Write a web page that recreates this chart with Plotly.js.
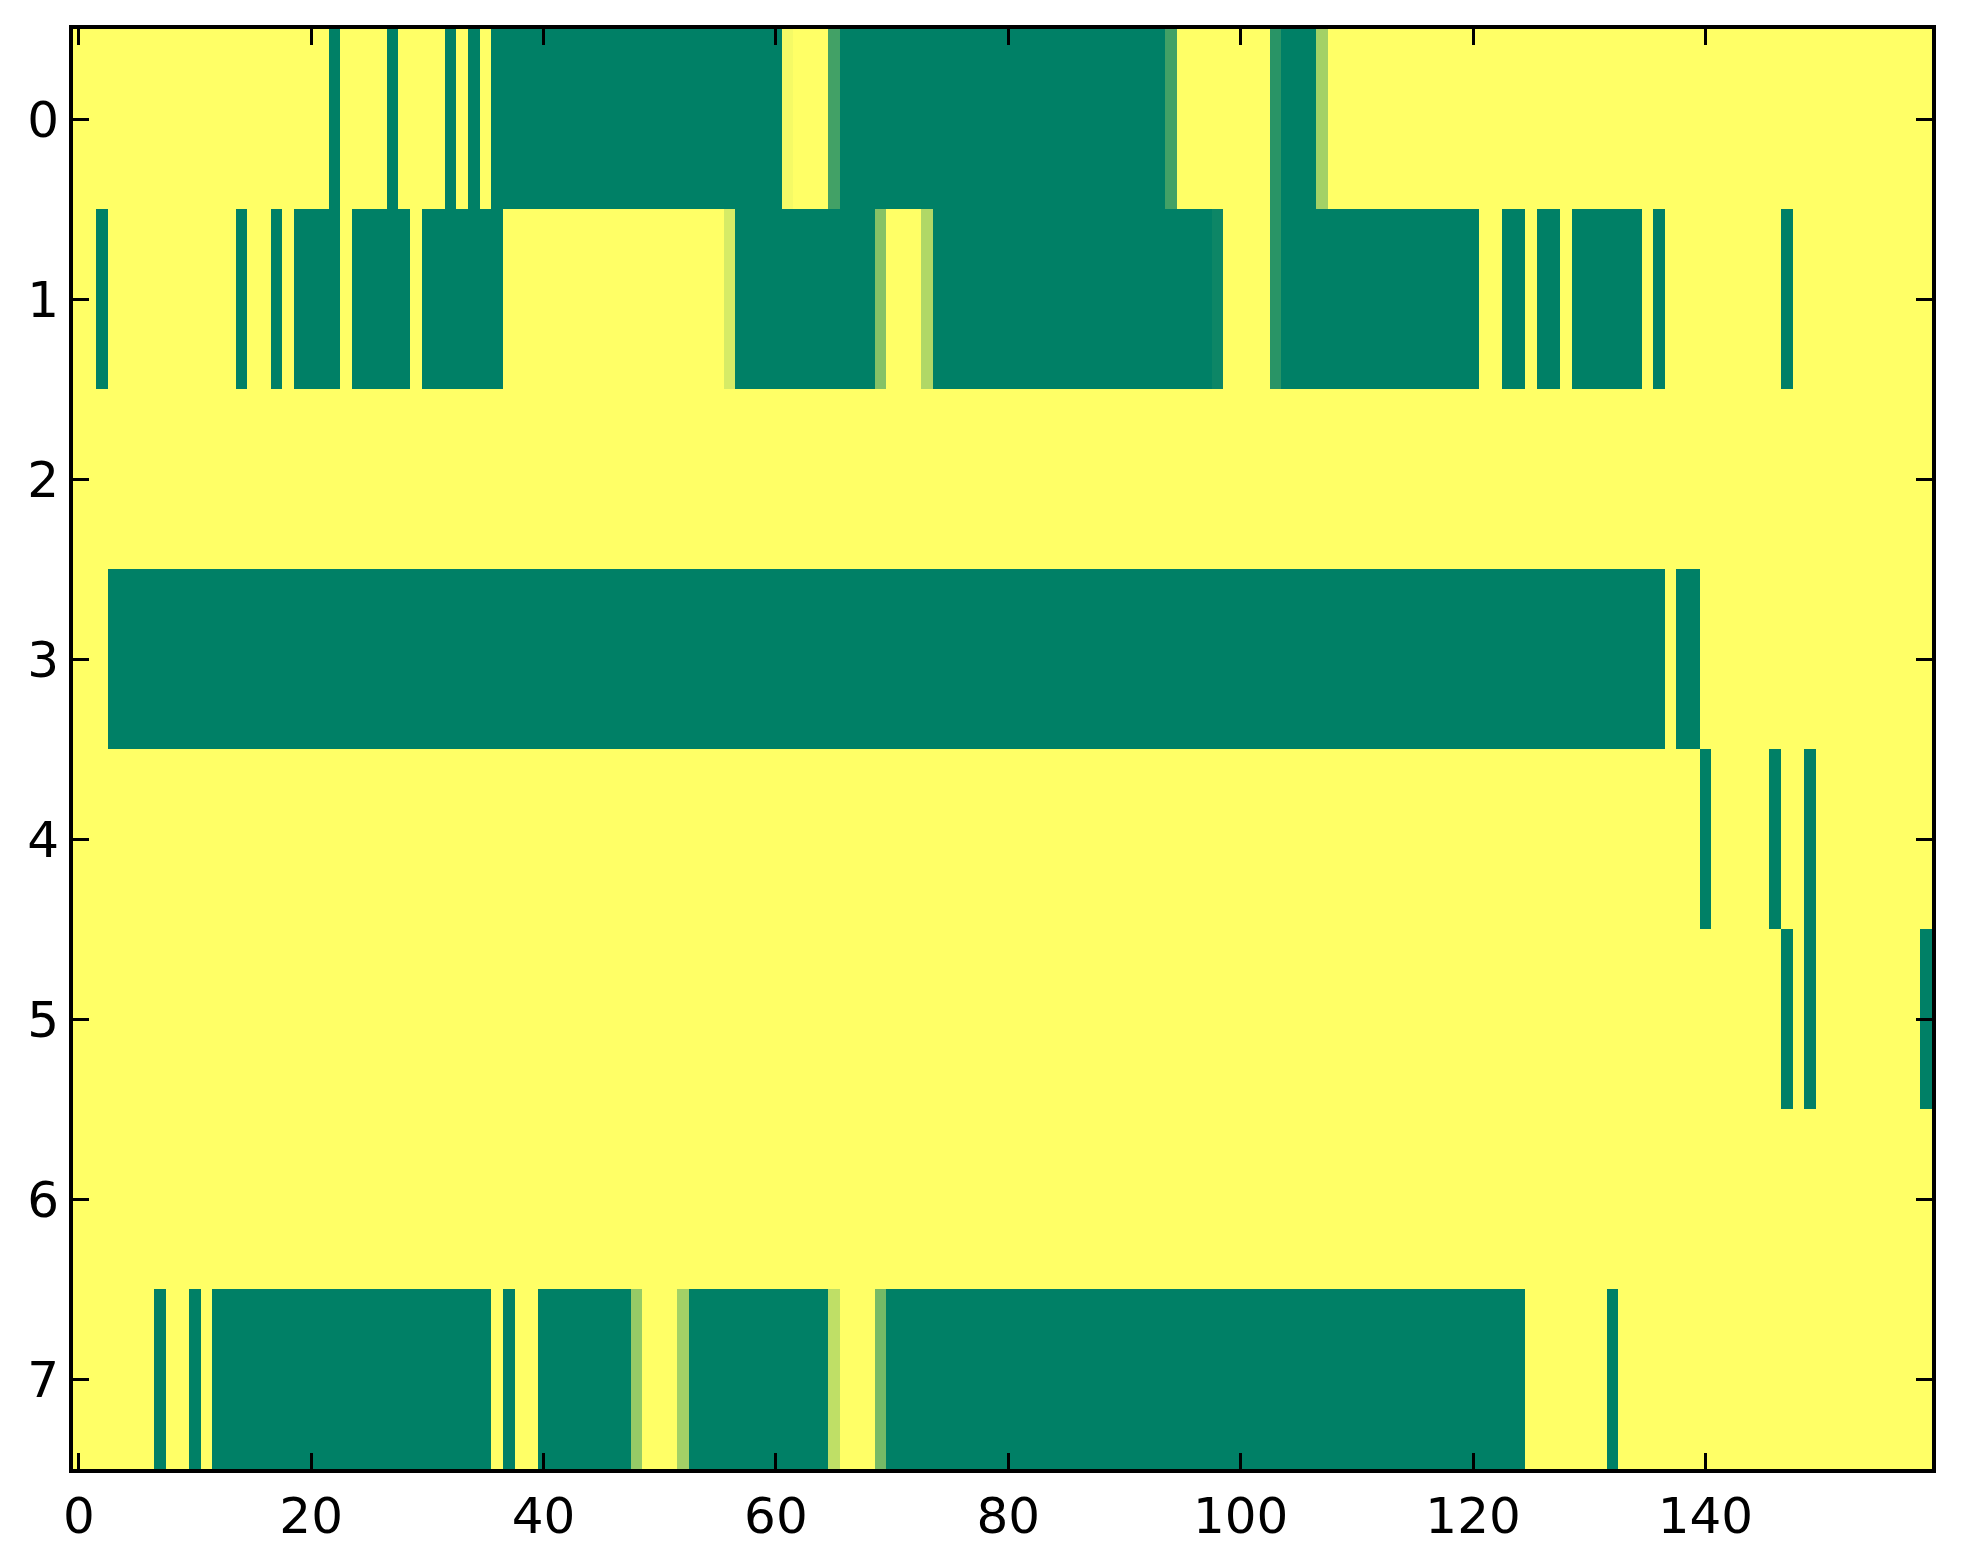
<!DOCTYPE html>
<html>
<head>
<meta charset="utf-8">
<script src="https://cdn.plot.ly/plotly-3.0.1.min.js"></script>
<style>html,body{margin:0;padding:0;background:#fff;}#chart{width:1963px;height:1564px;}</style>
</head>
<body>
<div id="chart"></div>
<script>
// Row labels (y categories) and x tick labels
const rowLabels = [0, 1, 2, 3, 4, 5, 6, 7];
const xTickVals = [0, 20, 40, 60, 80, 100, 120, 140];

// Cell values, 160 columns per row (0 = green, 1 = yellow)
const row0 = [
  1,1,1,1,1,1,1,1,1,1, 1,1,1,1,1,1,1,1,1,1,
  1,1,0,1,1,1,1,0,1,1, 1,1,0,1,0,1,0,0,0,0,
  0,0,0,0,0,0,0,0,0,0, 0,0,0,0,0,0,0,0,0,0,
  0,0.96,1,1,1,0.26,0,0,0,0, 0,0,0,0,0,0,0,0,0,0,
  0,0,0,0,0,0,0,0,0,0, 0,0,0,0,0.26,1,1,1,1,1,
  1,1,1,0.16,0,0,0,0.64,1,1, 1,1,1,1,1,1,1,1,1,1,
  1,1,1,1,1,1,1,1,1,1, 1,1,1,1,1,1,1,1,1,1,
  1,1,1,1,1,1,1,1,1,1, 1,1,1,1,1,1,1,1,1,1
];
const row1 = [
  1,1,0,1,1,1,1,1,1,1, 1,1,1,1,0,1,1,0,1,0,
  0,0,0,1,0,0,0,0,0,1, 0,0,0,0,0,0,0,1,1,1,
  1,1,1,1,1,1,1,1,1,1, 1,1,1,1,1,1,0.84,0,0,0,
  0,0,0,0,0,0,0,0,0,0.52, 1,1,1,0.69,0,0,0,0,0,0,
  0,0,0,0,0,0,0,0,0,0, 0,0,0,0,0,0,0,0,0.05,1,
  1,1,1,0.16,0,0,0,0,0,0, 0,0,0,0,0,0,0,0,0,0,
  0,1,1,0,0,1,0,0,1,0, 0,0,0,0,0,1,0,1,1,1,
  1,1,1,1,1,1,1,0,1,1, 1,1,1,1,1,1,1,1,1,1
];
const row2 = [
  1,1,1,1,1,1,1,1,1,1, 1,1,1,1,1,1,1,1,1,1,
  1,1,1,1,1,1,1,1,1,1, 1,1,1,1,1,1,1,1,1,1,
  1,1,1,1,1,1,1,1,1,1, 1,1,1,1,1,1,1,1,1,1,
  1,1,1,1,1,1,1,1,1,1, 1,1,1,1,1,1,1,1,1,1,
  1,1,1,1,1,1,1,1,1,1, 1,1,1,1,1,1,1,1,1,1,
  1,1,1,1,1,1,1,1,1,1, 1,1,1,1,1,1,1,1,1,1,
  1,1,1,1,1,1,1,1,1,1, 1,1,1,1,1,1,1,1,1,1,
  1,1,1,1,1,1,1,1,1,1, 1,1,1,1,1,1,1,1,1,1
];
const row3 = [
  1,1,1,0,0,0,0,0,0,0, 0,0,0,0,0,0,0,0,0,0,
  0,0,0,0,0,0,0,0,0,0, 0,0,0,0,0,0,0,0,0,0,
  0,0,0,0,0,0,0,0,0,0, 0,0,0,0,0,0,0,0,0,0,
  0,0,0,0,0,0,0,0,0,0, 0,0,0,0,0,0,0,0,0,0,
  0,0,0,0,0,0,0,0,0,0, 0,0,0,0,0,0,0,0,0,0,
  0,0,0,0,0,0,0,0,0,0, 0,0,0,0,0,0,0,0,0,0,
  0,0,0,0,0,0,0,0,0,0, 0,0,0,0,0,0,0,1,0,0,
  1,1,1,1,1,1,1,1,1,1, 1,1,1,1,1,1,1,1,1,1
];
const row4 = [
  1,1,1,1,1,1,1,1,1,1, 1,1,1,1,1,1,1,1,1,1,
  1,1,1,1,1,1,1,1,1,1, 1,1,1,1,1,1,1,1,1,1,
  1,1,1,1,1,1,1,1,1,1, 1,1,1,1,1,1,1,1,1,1,
  1,1,1,1,1,1,1,1,1,1, 1,1,1,1,1,1,1,1,1,1,
  1,1,1,1,1,1,1,1,1,1, 1,1,1,1,1,1,1,1,1,1,
  1,1,1,1,1,1,1,1,1,1, 1,1,1,1,1,1,1,1,1,1,
  1,1,1,1,1,1,1,1,1,1, 1,1,1,1,1,1,1,1,1,1,
  0,1,1,1,1,1,0,1,1,0, 1,1,1,1,1,1,1,1,1,1
];
const row5 = [
  1,1,1,1,1,1,1,1,1,1, 1,1,1,1,1,1,1,1,1,1,
  1,1,1,1,1,1,1,1,1,1, 1,1,1,1,1,1,1,1,1,1,
  1,1,1,1,1,1,1,1,1,1, 1,1,1,1,1,1,1,1,1,1,
  1,1,1,1,1,1,1,1,1,1, 1,1,1,1,1,1,1,1,1,1,
  1,1,1,1,1,1,1,1,1,1, 1,1,1,1,1,1,1,1,1,1,
  1,1,1,1,1,1,1,1,1,1, 1,1,1,1,1,1,1,1,1,1,
  1,1,1,1,1,1,1,1,1,1, 1,1,1,1,1,1,1,1,1,1,
  1,1,1,1,1,1,1,0,1,0, 1,1,1,1,1,1,1,1,1,0
];
const row6 = [
  1,1,1,1,1,1,1,1,1,1, 1,1,1,1,1,1,1,1,1,1,
  1,1,1,1,1,1,1,1,1,1, 1,1,1,1,1,1,1,1,1,1,
  1,1,1,1,1,1,1,1,1,1, 1,1,1,1,1,1,1,1,1,1,
  1,1,1,1,1,1,1,1,1,1, 1,1,1,1,1,1,1,1,1,1,
  1,1,1,1,1,1,1,1,1,1, 1,1,1,1,1,1,1,1,1,1,
  1,1,1,1,1,1,1,1,1,1, 1,1,1,1,1,1,1,1,1,1,
  1,1,1,1,1,1,1,1,1,1, 1,1,1,1,1,1,1,1,1,1,
  1,1,1,1,1,1,1,1,1,1, 1,1,1,1,1,1,1,1,1,1
];
const row7 = [
  1,1,1,1,1,1,1,0,1,1, 0,1,0,0,0,0,0,0,0,0,
  0,0,0,0,0,0,0,0,0,0, 0,0,0,0,0,0,1,0,1,1,
  0,0,0,0,0,0,0,0,0.59,1, 1,1,0.64,0,0,0,0,0,0,0,
  0,0,0,0,0,0.75,1,1,1,0.46, 0,0,0,0,0,0,0,0,0,0,
  0,0,0,0,0,0,0,0,0,0, 0,0,0,0,0,0,0,0,0,0,
  0,0,0,0,0,0,0,0,0,0, 0,0,0,0,0,0,0,0,0,0,
  0,0,0,0,0,1,1,1,1,1, 1,1,0,1,1,1,1,1,1,1,
  1,1,1,1,1,1,1,1,1,1, 1,1,1,1,1,1,1,1,1,1
];

const zRows = [row0, row1, row2, row3, row4, row5, row6, row7];

// matplotlib "summer" colormap
const summer = [[0, 'rgb(0,128,102)'], [1, 'rgb(255,255,102)']];

const trace = {
  type: 'heatmap',
  z: zRows,
  y: rowLabels,
  colorscale: summer,
  zmin: 0,
  zmax: 1,
  showscale: false,
  hoverinfo: 'x+y+z'
};

const axisCommon = {
  showgrid: false,
  zeroline: false,
  showline: true,
  linecolor: '#000',
  linewidth: 4,
  mirror: 'ticks',
  ticks: 'inside',
  ticklen: 16,
  tickwidth: 3,
  tickcolor: '#000',
  tickfont: {family: 'DejaVu Sans', size: 50, color: '#000'}
};

const layout = {
  width: 1963,
  height: 1564,
  margin: {l: 73, r: 31, t: 29, b: 95, pad: 0},
  paper_bgcolor: '#fff',
  plot_bgcolor: '#fff',
  xaxis: Object.assign({}, axisCommon, {
    range: [-0.5, 159.5],
    tickmode: 'array',
    tickvals: xTickVals,
    ticktext: xTickVals.map(String),
    ticklabelstandoff: 0
  }),
  yaxis: Object.assign({}, axisCommon, {
    range: [7.5, -0.5],
    tickmode: 'array',
    tickvals: rowLabels,
    ticktext: rowLabels.map(String),
    ticklabelstandoff: 0
  })
};

Plotly.newPlot('chart', [trace], layout, {displayModeBar: false, staticPlot: true});
</script>
</body>
</html>
